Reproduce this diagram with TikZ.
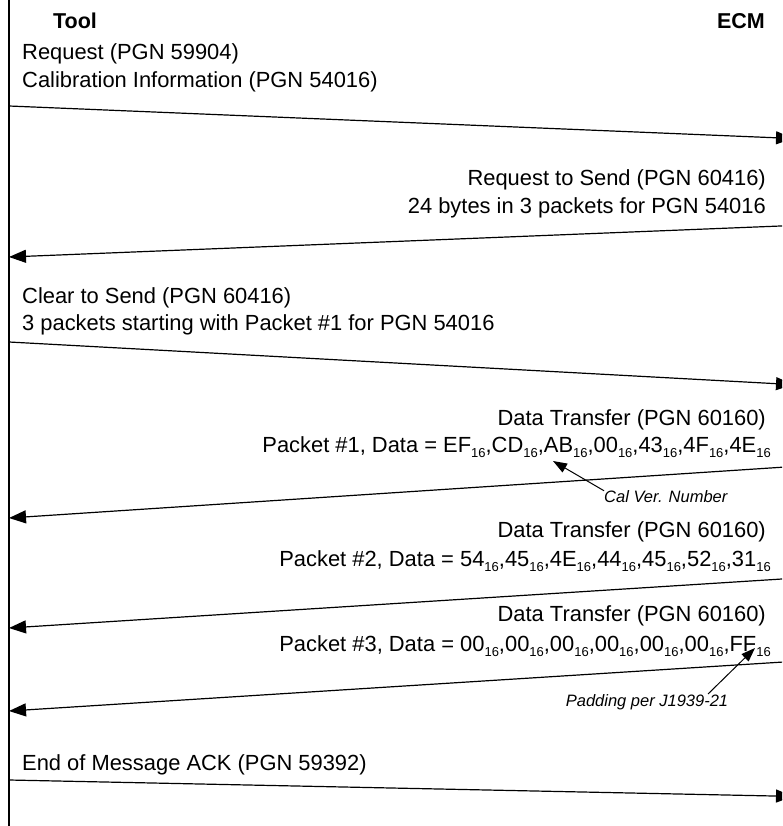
\documentclass[tikz,border=0pt]{standalone}
\usepackage{fontspec}
\setmainfont{Liberation Sans}
\usetikzlibrary{arrows.meta}
% hex byte with a lowered base-16 subscript
\newcommand\hx[1]{#1\raisebox{-5.5pt}{\fontsize{13}{14}\selectfont 16}}
\begin{document}
\begin{tikzpicture}[x=1pt,y=-1pt,
  lifeline/.style={line width=1.1pt},
  msg/.style={line width=1.2pt,-{Triangle[length=17pt,width=13pt]}},
  callout/.style={line width=1pt,-{Triangle[length=14pt,width=10pt]}},
  txt/.style={inner sep=0pt,font=\fontsize{21.9}{26}\selectfont},
  head/.style={inner sep=0pt,font=\fontsize{21.5}{26}\selectfont\bfseries},
  notetxt/.style={inner sep=0pt,font=\fontsize{16.5}{20}\selectfont\itshape}]
\path[use as bounding box,clip] (0,0) rectangle (782,826);

% lifelines (the ECM one lies just outside the frame)
\coordinate (tooltop) at (9,0);
\coordinate (toolbot) at (9,826);
\draw[lifeline] (tooltop) -- (toolbot);

% participants
\node[head] (tool) at (75,21) {Tool};
\node[head] (ecm) at (741,21) {ECM};

% 1: request
\node[txt,anchor=west] (m1a) at (22,54) {Request (PGN 59904)};
\node[txt,anchor=west] (m1b) at (22,82) {Calibration Information (PGN 54016)};
\coordinate (a1s) at (9,106);
\coordinate (a1e) at (793,138.5);
\draw[msg] (a1s) -- (a1e);

% 2: request to send
\node[txt,anchor=east] (m2a) at (766,180) {Request to Send (PGN 60416)};
\node[txt,anchor=east] (m2b) at (766,208) {24 bytes in 3 packets for PGN 54016};
\coordinate (a2s) at (793,225.5);
\coordinate (a2e) at (9,257);
\draw[msg] (a2s) -- (a2e);

% 3: clear to send
\node[txt,anchor=west] (m3a) at (22,298) {Clear to Send (PGN 60416)};
\node[txt,anchor=west] (m3b) at (22,325) {3 packets starting with Packet \#1 for PGN 54016};
\coordinate (a3s) at (9,342);
\coordinate (a3e) at (793,384.6);
\draw[msg] (a3s) -- (a3e);

% 4: first data packet
\node[txt,anchor=east] (m4a) at (766,420) {Data Transfer (PGN 60160)};
\node[txt,anchor=east] (m4b) at (771,447) {Packet \#1, Data = \hx{EF},\hx{CD},\hx{AB},\hx{00},\hx{43},\hx{4F},\hx{4E}};
\coordinate (a4s) at (793,466.5);
\coordinate (a4e) at (9,518);
\draw[msg] (a4s) -- (a4e);
\node[notetxt,anchor=west] (calver) at (604,497) {Cal Ver. Number};
\coordinate (abmark) at (553,461);
\draw[callout] (calver.north west) -- (abmark);

% 5: second data packet
\node[txt,anchor=east] (m5a) at (766,532) {Data Transfer (PGN 60160)};
\node[txt,anchor=east] (m5b) at (771,561) {Packet \#2, Data = \hx{54},\hx{45},\hx{4E},\hx{44},\hx{45},\hx{52},\hx{31}};
\coordinate (a5s) at (793,578.3);
\coordinate (a5e) at (9,628);
\draw[msg] (a5s) -- (a5e);

% 6: third data packet
\node[txt,anchor=east] (m6a) at (766,616) {Data Transfer (PGN 60160)};
\node[txt,anchor=east] (m6b) at (771,646) {Packet \#3, Data = \hx{00},\hx{00},\hx{00},\hx{00},\hx{00},\hx{00},\hx{FF}};
\coordinate (a6s) at (793,661.4);
\coordinate (a6e) at (9,711);
\draw[msg] (a6s) -- (a6e);
\node[notetxt,anchor=center] (pad) at (647,702) {Padding per J1939-21};
\coordinate (padtail) at (708,694);
\coordinate (ffmark) at (755,648);
\draw[callout] (padtail) -- (ffmark);

% 7: end of message acknowledgement
\node[txt,anchor=west] (m7a) at (22,765) {End of Message ACK (PGN 59392)};
\coordinate (a7s) at (9,780);
\coordinate (a7e) at (793,796.4);
\draw[msg] (a7s) -- (a7e);
\end{tikzpicture}
\end{document}
